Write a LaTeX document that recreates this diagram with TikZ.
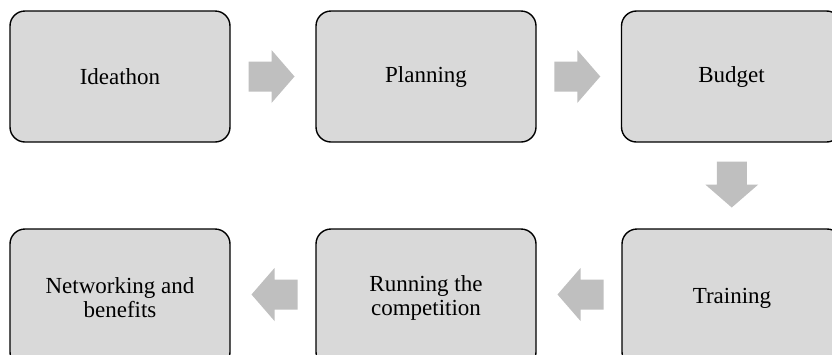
\documentclass[tikz,border=0pt]{standalone}
\usepackage{fontspec}
\setmainfont{Liberation Serif}
\usetikzlibrary{calc}
\definecolor{boxgray}{HTML}{D9D9D9}
\definecolor{arrowgray}{HTML}{BFBFBF}
\tikzset{
  stagebox/.style={draw=black, line width=1.4pt, fill=boxgray, rounded corners=15pt,
    minimum width=220pt, minimum height=131pt, align=center, inner sep=0pt,
    font=\fontsize{23}{24}\selectfont},
  lowbox/.style={stagebox, minimum height=138pt},
  blockarrow/.pic={\fill[arrowgray] (-23,-15) -- (0,-15) -- (0,-26.5) -- (23,0) -- (0,26.5) -- (0,15) -- (-23,15) -- cycle;}
}
\begin{document}
\begin{tikzpicture}[x=1pt,y=-1pt]
\useasboundingbox (0,0) rectangle (832,354);
\clip (0,0) rectangle (832,354);
\node[stagebox] (b1) at (120,76.5) {Ideathon};
\node[stagebox] (b2) at (426,76.5) {Planning};
\node[stagebox] (b3) at (731.5,76.5) {Budget};
\node[lowbox] (b6) at (732,298) {Training};
\node[lowbox] (b5) at (426,298) {Running the\\competition};
\node[lowbox] (b4) at (120,298) {Networking and\\benefits};
\path ($(b1.east)!0.5!(b2.west)$) coordinate (m12);
\path ($(b2.east)!0.5!(b3.west)$) coordinate (m23);
\path ($(b3.south)!0.5!(b6.north)$) coordinate (m36);
\path ($(b6.west)!0.5!(b5.east)$) coordinate (m65);
\path ($(b5.west)!0.5!(b4.east)$) coordinate (m54);
\pic at ($(m12)+(-1.5,0)$) {blockarrow};
\pic at ($(m23)+(-1.5,0)$) {blockarrow};
\pic[rotate=-90] at ($(m36)+(0,-1)$) {blockarrow};
\pic[rotate=180] at ($(m65)+(1.5,-3.5)$) {blockarrow};
\pic[rotate=180] at ($(m54)+(1.5,-3.5)$) {blockarrow};
\end{tikzpicture}
\end{document}
